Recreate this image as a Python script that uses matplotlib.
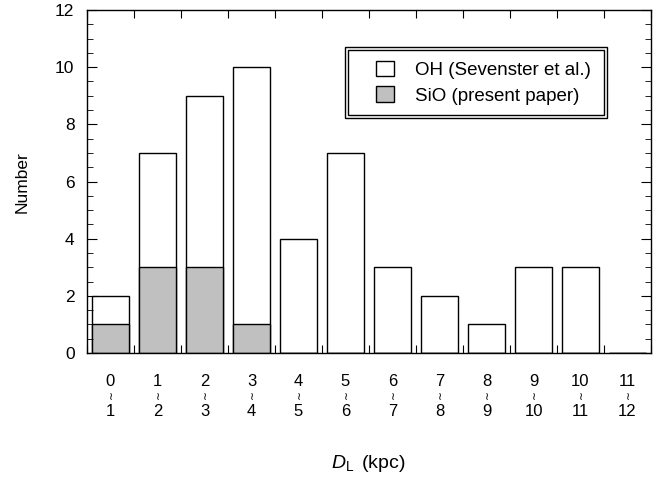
import matplotlib.pyplot as plt
import matplotlib.transforms as mtransforms
from matplotlib.patches import Rectangle
from matplotlib.ticker import MultipleLocator
import numpy as np

plt.rcParams['font.family'] = ['Liberation Sans', 'DejaVu Sans']
plt.rcParams['mathtext.fontset'] = 'custom'
plt.rcParams['mathtext.it'] = 'Liberation Sans:italic'
plt.rcParams['mathtext.rm'] = 'Liberation Sans'

bin_lo = [0, 1, 2, 3, 4, 5, 6, 7, 8, 9, 10, 11]
bin_hi = [1, 2, 3, 4, 5, 6, 7, 8, 9, 10, 11, 12]
oh_counts = [2, 7, 9, 10, 4, 7, 3, 2, 1, 3, 3, 0]
sio_counts = [1, 3, 3, 1, 0, 0, 0, 0, 0, 0, 0, 0]

fig = plt.figure(figsize=(6.55, 4.86), dpi=100)
ax = fig.add_axes([87/655, 1 - 353/486, 564/655, 343/486])

centers = np.array(bin_lo) + 0.5
ax.bar(centers, oh_counts, width=0.8, color='white', edgecolor='black', linewidth=1.0,
       label='OH (Sevenster et al.)')
ax.bar(centers, sio_counts, width=0.8, color='#c0c0c0', edgecolor='black', linewidth=1.0,
       label='SiO (present paper)')

ax.set_xlim(0, 12)
ax.set_ylim(0, 12)
ax.yaxis.set_major_locator(MultipleLocator(2))
ax.yaxis.set_minor_locator(MultipleLocator(0.5))
ax.xaxis.set_major_locator(MultipleLocator(1))
ax.tick_params(axis='both', which='both', direction='in', top=True, right=True)
ax.tick_params(axis='y', which='major', length=7, labelsize=12.5, pad=9)
ax.tick_params(axis='y', which='minor', length=4)
ax.tick_params(axis='x', which='major', length=6, labelbottom=False)
for s in ax.spines.values():
    s.set_linewidth(1.0)

# x tick labels: "lo ~ hi" stacked
trans = mtransforms.blended_transform_factory(ax.transData, fig.transFigure)
for c, lo, hi in zip(centers, bin_lo, bin_hi):
    ax.text(c, 1 - 382/486, str(lo), transform=trans, ha='center', va='center', fontsize=12)
    ax.text(c, 1 - 397/486, '\u2240', transform=trans, ha='center', va='center', fontsize=8,
            family='DejaVu Sans')
    ax.text(c, 1 - 411/486, str(hi), transform=trans, ha='center', va='center', fontsize=12)

fig.text(368/655, 1 - 463/486, r'$D_{\rm L}\,$ (kpc)', ha='center', va='center',
         fontsize=14)
fig.text(22/655, 1 - 182/486, 'Number', rotation=90, ha='center', va='center', fontsize=12.5)

# legend with double frame
x0, x1 = (345 - 87) / 564, (607 - 87) / 564
y0, y1 = (353 - 118) / 343, (353 - 47) / 343
ax.add_patch(Rectangle((x0, y0), x1 - x0, y1 - y0, transform=ax.transAxes,
                       fill=True, facecolor='white', edgecolor='black', lw=1.0, zorder=4))
d = 0.006
ax.add_patch(Rectangle((x0 + d, y0 + d * 564/343), x1 - x0 - 2*d, y1 - y0 - 2*d*564/343,
                       transform=ax.transAxes, fill=False, edgecolor='black', lw=1.0, zorder=4))
leg = ax.legend(loc='center', bbox_to_anchor=((x0 + x1) / 2 + 0.013, (y0 + y1) / 2),
                frameon=False, fontsize=13.5, handlelength=1.0, handleheight=0.9,
                handletextpad=1.1, labelspacing=0.4)
leg.set_zorder(5)

fig.savefig('out.png', dpi=100)
